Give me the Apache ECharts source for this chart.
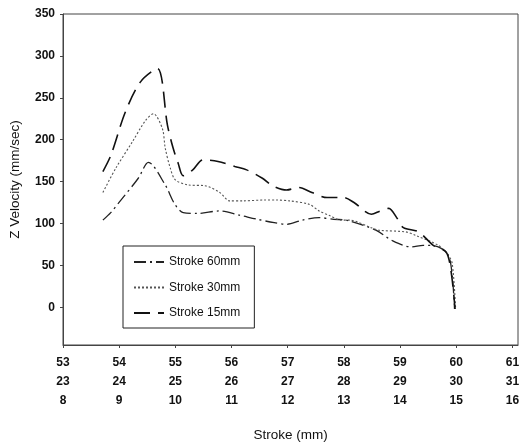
<!DOCTYPE html>
<html>
<head>
<meta charset="utf-8">
<script src="https://cdn.jsdelivr.net/npm/echarts@6/dist/echarts.min.js"></script>
<style>
  html, body { margin: 0; padding: 0; background: #fff; }
  #main { width: 524px; height: 447px; }
</style>
</head>
<body>
<div id="main"></div>
<script>
// stroke positions (mm, top axis row) and Z velocity (mm/sec)
var stroke60X = [53.71, 53.85, 54.02, 54.34, 54.52, 54.82, 54.99, 55.14, 55.39, 55.79, 56.14, 56.46, 56.76, 56.98, 57.26, 57.56, 57.82, 58.04, 58.57, 58.85, 59.20, 59.41, 59.68, 59.86, 59.93, 59.97];
var stroke60Y = [104, 113, 127, 154, 173, 146, 123, 113, 112, 115, 110, 105, 101, 99, 104, 107, 105, 104, 92, 80, 72, 74, 72, 62, 37, -2];

var stroke30X = [53.71, 53.94, 54.24, 54.47, 54.61, 54.77, 54.82, 54.91, 55.00, 55.23, 55.53, 55.79, 55.97, 56.20, 56.59, 56.80, 57.03, 57.38, 57.56, 57.73, 57.96, 58.09, 58.49, 58.62, 59.10, 59.27, 59.68, 59.86, 59.93, 59.99];
var stroke30Y = [137, 166, 198, 223, 231, 213, 190, 166, 152, 146, 145, 137, 127, 127, 128, 128, 127, 123, 115, 110, 104, 104, 95, 92, 90, 86, 74, 62, 52, -2];

var stroke15X = [53.71, 53.85, 54.11, 54.38, 54.68, 54.86, 54.96, 55.05, 55.14, 55.31, 55.49, 55.76, 56.06, 56.27, 56.55, 56.73, 56.98, 57.20, 57.43, 57.70, 58.00, 58.18, 58.49, 58.65, 58.80, 58.94, 59.06, 59.33, 59.59, 59.82, 59.91, 59.98];
var stroke15Y = [162, 181, 233, 269, 285, 217, 190, 172, 157, 164, 176, 174, 168, 164, 154, 145, 140, 143, 137, 131, 131, 125, 111, 115, 118, 107, 95, 90, 74, 66, 42, -2];

// x tick labels: three stroke scales stacked under each tick
var xTicks = [53, 54, 55, 56, 57, 58, 59, 60, 61];
var xRow2 = [23, 24, 25, 26, 27, 28, 29, 30, 31];
var xRow3 = [8, 9, 10, 11, 12, 13, 14, 15, 16];
var yTicks = [0, 50, 100, 150, 200, 250, 300, 350];

function pairs(xs, ys) {
    return xs.map(function (x, i) { return [x, ys[i]]; });
}

var myChart = echarts.init(document.getElementById('main'));

var font = 'Liberation Sans, Arial, sans-serif';

myChart.setOption({
    animation: false,
    textStyle: { fontFamily: font },
    grid: {
        left: 62, top: 14, right: 6, bottom: 98,
        show: true, borderColor: '#444', borderWidth: 1
    },
    legend: {
        orient: 'vertical',
        left: 123, top: 246,
        padding: [10, 14, 9, 10],
        itemWidth: 30, itemHeight: 10, itemGap: 13.5,
        borderColor: '#222', borderWidth: 1,
        itemStyle: { opacity: 0 },
        textStyle: { fontSize: 12, color: '#111', fontFamily: font },
        data: ['Stroke 60mm', 'Stroke 30mm', 'Stroke 15mm']
    },
    xAxis: {
        type: 'value',
        min: 53, max: 61.1,
        name: 'Stroke (mm)',
        nameLocation: 'middle',
        nameGap: 83,
        nameTextStyle: { fontSize: 13.5, color: '#111' },
        splitLine: { show: false },
        axisLine: { show: true, onZero: false, lineStyle: { color: '#444' } },
        axisTick: { show: true, length: 3, inside: false, customValues: xTicks, lineStyle: { color: '#444' } },
        axisLabel: {
            customValues: xTicks,
            margin: 8,
            fontSize: 12, lineHeight: 19, fontWeight: 'bold', color: '#111',
            formatter: function (v) {
                var i = xTicks.indexOf(v);
                return i < 0 ? '' : xTicks[i] + '\n' + xRow2[i] + '\n' + xRow3[i];
            }
        }
    },
    yAxis: {
        type: 'value',
        min: -45, max: 350,
        name: 'Z Velocity (mm/sec)',
        nameLocation: 'middle',
        nameGap: 41,
        nameTextStyle: { fontSize: 13.5, color: '#111' },
        splitLine: { show: false },
        axisLine: { show: true, lineStyle: { color: '#444' } },
        axisTick: { show: true, length: 3, customValues: yTicks, lineStyle: { color: '#444' } },
        axisLabel: {
            customValues: yTicks,
            margin: 8,
            fontSize: 12, fontWeight: 'bold', color: '#111'
        }
    },
    series: [
        {
            name: 'Stroke 60mm',
            type: 'line',
            smooth: 0.3,
            symbol: 'none',
            color: '#222',
            lineStyle: { width: 1.3, color: '#222', type: [12, 4, 2, 4] },
            data: pairs(stroke60X, stroke60Y)
        },
        {
            name: 'Stroke 30mm',
            type: 'line',
            smooth: 0.3,
            symbol: 'none',
            color: '#555',
            lineStyle: { width: 1.1, color: '#555', type: [2, 2] },
            data: pairs(stroke30X, stroke30Y)
        },
        {
            name: 'Stroke 15mm',
            type: 'line',
            smooth: 0.3,
            symbol: 'none',
            color: '#111',
            lineStyle: { width: 1.6, color: '#111', type: [16, 8] },
            data: pairs(stroke15X, stroke15Y)
        }
    ]
});
</script>
</body>
</html>
